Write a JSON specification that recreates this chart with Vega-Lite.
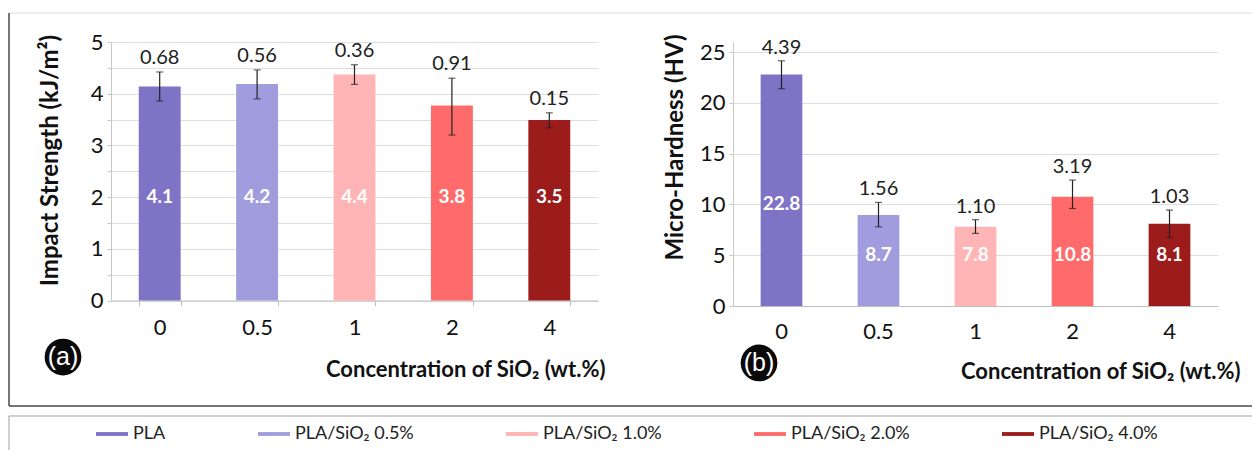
{
  "$schema": "https://vega.github.io/schema/vega-lite/v6.json",
  "width": 1243,
  "height": 437,
  "autosize": {"type": "none"},
  "padding": {"left": 9, "top": 13, "right": 0, "bottom": 0},
  "background": "white",
  "config": {
    "view": {"stroke": null},
    "font": "Lato",
    "axis": {
      "labelFont": "Lato",
      "titleFont": "Lato",
      "labelColor": "#111111",
      "titleColor": "#111111",
      "domainColor": "#c8c8c8",
      "tickColor": "#c8c8c8",
      "gridColor": "#dedede",
      "labelFontSize": 22
    }
  },
  "datasets": {
    "impact": [
      {"conc": "0", "series": "PLA", "value": 4.14, "lo": 3.86, "hi": 4.42, "sd": "0.68", "label": "4.1"},
      {"conc": "0.5", "series": "PLA/SiO₂ 0.5%", "value": 4.19, "lo": 3.9, "hi": 4.46, "sd": "0.56", "label": "4.2"},
      {"conc": "1", "series": "PLA/SiO₂ 1.0%", "value": 4.37, "lo": 4.18, "hi": 4.56, "sd": "0.36", "label": "4.4"},
      {"conc": "2", "series": "PLA/SiO₂ 2.0%", "value": 3.77, "lo": 3.2, "hi": 4.3, "sd": "0.91", "label": "3.8"},
      {"conc": "4", "series": "PLA/SiO₂ 4.0%", "value": 3.49, "lo": 3.34, "hi": 3.63, "sd": "0.15", "label": "3.5"}
    ],
    "hardness": [
      {"conc": "0", "series": "PLA", "value": 22.8, "lo": 21.4, "hi": 24.15, "sd": "4.39", "label": "22.8"},
      {"conc": "0.5", "series": "PLA/SiO₂ 0.5%", "value": 8.96, "lo": 7.8, "hi": 10.2, "sd": "1.56", "label": "8.7"},
      {"conc": "1", "series": "PLA/SiO₂ 1.0%", "value": 7.8, "lo": 7.15, "hi": 8.5, "sd": "1.10", "label": "7.8"},
      {"conc": "2", "series": "PLA/SiO₂ 2.0%", "value": 10.75, "lo": 9.6, "hi": 12.4, "sd": "3.19", "label": "10.8"},
      {"conc": "4", "series": "PLA/SiO₂ 4.0%", "value": 8.1, "lo": 6.75, "hi": 9.45, "sd": "1.03", "label": "8.1"}
    ]
  },
  "resolve": {
    "scale": {"x": "independent", "y": "independent"},
    "axis": {"x": "independent", "y": "independent"}
  },
  "layer": [
    {
      "data": {"name": "impact"},
      "encoding": {
        "x": {
          "field": "conc", "type": "nominal", "sort": null,
          "scale": {"range": [102, 589], "paddingInner": 0.57, "paddingOuter": 0.285},
          "axis": {"orient": "bottom", "offset": -149.5, "title": "Concentration of SiO₂ (wt.%)", "labelAngle": 0, "tickBand": "extent", "tickSize": 5, "labelPadding": 12, "titleFontSize": 22, "titleFontWeight": "bold", "titleAnchor": "end", "titleAlign": "right", "titleX": 596, "titlePadding": 21, "domainColor": "#bdbdbd", "tickColor": "#bdbdbd"}
        }
      },
      "layer": [
        {
          "mark": {"type": "bar"},
          "encoding": {
            "y": {"field": "value", "type": "quantitative", "scale": {"domain": [0, 5], "range": [287.5, 29]},
              "axis": {"orient": "left", "offset": -102, "title": "Impact Strength (kJ/m²)", "values": [0, 0.5, 1, 1.5, 2, 2.5, 3, 3.5, 4, 4.5, 5], "labelExpr": "datum.value % 1 === 0 ? format(datum.value, 'd') : ''", "grid": true, "tickSize": 4, "labelPadding": 4, "titleFontSize": 24, "titleFontWeight": "bold", "titlePadding": 28, "titleY": 147}},
            "color": {"field": "series", "type": "nominal",
              "scale": {"domain": ["PLA", "PLA/SiO₂ 0.5%", "PLA/SiO₂ 1.0%", "PLA/SiO₂ 2.0%", "PLA/SiO₂ 4.0%"], "range": ["#7f73c6", "#a19cdd", "#ffb4b5", "#ff6b6b", "#9c1b1b"]},
              "legend": {"orient": "none", "legendX": 87, "legendY": 405, "direction": "horizontal", "title": null, "symbolType": "M-1,-0.12H1V0.12H-1Z", "symbolSize": 1024, "symbolStrokeWidth": 0, "labelFont": "Lato", "labelFontSize": 18, "labelColor": "#222", "labelOffset": 5, "columnPadding": 92, "labelLimit": 300, "padding": 0}}
          }
        },
        {
          "mark": {"type": "rule", "color": "#222", "strokeWidth": 1.2},
          "encoding": {"y": {"field": "lo", "type": "quantitative"}, "y2": {"field": "hi"}}
        },
        {
          "mark": {"type": "tick", "color": "#222", "thickness": 1.2, "size": 7},
          "encoding": {"y": {"field": "lo", "type": "quantitative"}}
        },
        {
          "mark": {"type": "tick", "color": "#222", "thickness": 1.2, "size": 7},
          "encoding": {"y": {"field": "hi", "type": "quantitative"}}
        },
        {
          "mark": {"type": "text", "baseline": "alphabetic", "dy": -8, "fontSize": 20, "color": "#222"},
          "encoding": {"y": {"field": "hi", "type": "quantitative"}, "text": {"field": "sd"}}
        },
        {
          "mark": {"type": "text", "baseline": "middle", "fontSize": 19, "fontWeight": "bold", "color": "white"},
          "encoding": {"y": {"datum": 2, "type": "quantitative"}, "text": {"field": "label"}}
        }
      ]
    },
    {
      "data": {"name": "hardness"},
      "encoding": {
        "x": {
          "field": "conc", "type": "nominal", "sort": null,
          "scale": {"range": [724, 1209], "paddingInner": 0.57, "paddingOuter": 0.285},
          "axis": {"orient": "bottom", "offset": -144, "title": "Concentration of SiO₂ (wt.%)", "labelAngle": 0, "ticks": false, "tickSize": 0, "labelPadding": 15, "titleFontSize": 22, "titleFontWeight": "bold", "titleAnchor": "end", "titleAlign": "right", "titleX": 1231, "titlePadding": 19, "domainColor": "#bdbdbd"}
        }
      },
      "layer": [
        {
          "mark": {"type": "bar"},
          "encoding": {
            "y": {"field": "value", "type": "quantitative", "scale": {"domain": [0, 25], "range": [293, 29]},
              "axis": {"orient": "left", "offset": -724, "title": "Micro-Hardness (HV)", "values": [0, 5, 10, 15, 20, 25], "grid": true, "tickSize": 4, "labelPadding": 4, "titleFontSize": 24, "titleFontWeight": "bold", "titlePadding": 12, "titleY": 134}},
            "color": {"field": "series", "type": "nominal",
              "scale": {"domain": ["PLA", "PLA/SiO₂ 0.5%", "PLA/SiO₂ 1.0%", "PLA/SiO₂ 2.0%", "PLA/SiO₂ 4.0%"], "range": ["#7f73c6", "#a19cdd", "#ffb4b5", "#ff6b6b", "#9c1b1b"]},
              "legend": {"orient": "none", "legendX": 87, "legendY": 405, "direction": "horizontal", "title": null, "symbolType": "M-1,-0.12H1V0.12H-1Z", "symbolSize": 1024, "symbolStrokeWidth": 0, "labelFont": "Lato", "labelFontSize": 18, "labelColor": "#222", "labelOffset": 5, "columnPadding": 92, "labelLimit": 300, "padding": 0}}
          }
        },
        {
          "mark": {"type": "rule", "color": "#222", "strokeWidth": 1.2},
          "encoding": {"y": {"field": "lo", "type": "quantitative"}, "y2": {"field": "hi"}}
        },
        {
          "mark": {"type": "tick", "color": "#222", "thickness": 1.2, "size": 7},
          "encoding": {"y": {"field": "lo", "type": "quantitative"}}
        },
        {
          "mark": {"type": "tick", "color": "#222", "thickness": 1.2, "size": 7},
          "encoding": {"y": {"field": "hi", "type": "quantitative"}}
        },
        {
          "mark": {"type": "text", "baseline": "alphabetic", "dy": -7, "fontSize": 20, "color": "#222"},
          "encoding": {"y": {"field": "hi", "type": "quantitative"}, "text": {"field": "sd"}}
        },
        {
          "transform": [{"filter": "datum.conc === '0'"}],
          "mark": {"type": "text", "baseline": "middle", "fontSize": 19, "fontWeight": "bold", "color": "white"},
          "encoding": {"y": {"datum": 10, "type": "quantitative"}, "text": {"field": "label"}}
        },
        {
          "transform": [{"filter": "datum.conc !== '0'"}],
          "mark": {"type": "text", "baseline": "middle", "fontSize": 19, "fontWeight": "bold", "color": "white"},
          "encoding": {"y": {"datum": 5, "type": "quantitative"}, "text": {"field": "label"}}
        }
      ]
    },
    {
      "data": {"values": [{}]},
      "layer": [
        {
          "mark": {"type": "rule", "color": "#dcdcdc", "strokeWidth": 1},
          "encoding": {"y": {"datum": 1, "type": "quantitative", "scale": {"domain": [0, 1]}, "axis": null}}
        },
        {
          "mark": {"type": "rule", "color": "#4a4a4a", "strokeWidth": 1.5},
          "encoding": {"y": {"datum": 0.10069, "type": "quantitative", "scale": {"domain": [0, 1]}, "axis": null}}
        },
        {
          "mark": {"type": "rule", "color": "#a0a0a0", "strokeWidth": 1},
          "encoding": {"y": {"datum": 0.0778, "type": "quantitative", "scale": {"domain": [0, 1]}, "axis": null}}
        },
        {
          "mark": {"type": "rule", "color": "#4a4a4a", "strokeWidth": 1.5},
          "encoding": {
            "x": {"datum": 0, "type": "quantitative", "scale": {"domain": [0, 1]}, "axis": null},
            "y": {"datum": 1, "type": "quantitative", "scale": {"domain": [0, 1]}, "axis": null},
            "y2": {"datum": 0.10069}
          }
        },
        {
          "mark": {"type": "rule", "color": "#a0a0a0", "strokeWidth": 1},
          "encoding": {
            "x": {"datum": 0, "type": "quantitative", "scale": {"domain": [0, 1]}, "axis": null},
            "y": {"datum": 0.0778, "type": "quantitative", "scale": {"domain": [0, 1]}, "axis": null},
            "y2": {"datum": 0}
          }
        },
        {
          "mark": {"type": "point", "shape": "circle", "filled": true, "color": "#0a0a0a", "opacity": 1, "size": 1350},
          "encoding": {
            "x": {"datum": 0.04344, "type": "quantitative", "scale": {"domain": [0, 1]}, "axis": null},
            "y": {"datum": 0.2128, "type": "quantitative", "scale": {"domain": [0, 1]}, "axis": null}
          }
        },
        {
          "mark": {"type": "text", "text": "(a)", "color": "white", "font": "Liberation Sans", "fontSize": 25, "baseline": "middle"},
          "encoding": {
            "x": {"datum": 0.04344, "type": "quantitative", "scale": {"domain": [0, 1]}, "axis": null},
            "y": {"datum": 0.2128, "type": "quantitative", "scale": {"domain": [0, 1]}, "axis": null}
          }
        },
        {
          "mark": {"type": "point", "shape": "circle", "filled": true, "color": "#0a0a0a", "opacity": 1, "size": 1350},
          "encoding": {
            "x": {"datum": 0.6034, "type": "quantitative", "scale": {"domain": [0, 1]}, "axis": null},
            "y": {"datum": 0.1991, "type": "quantitative", "scale": {"domain": [0, 1]}, "axis": null}
          }
        },
        {
          "mark": {"type": "text", "text": "(b)", "color": "white", "font": "Liberation Sans", "fontSize": 25, "baseline": "middle"},
          "encoding": {
            "x": {"datum": 0.6034, "type": "quantitative", "scale": {"domain": [0, 1]}, "axis": null},
            "y": {"datum": 0.1991, "type": "quantitative", "scale": {"domain": [0, 1]}, "axis": null}
          }
        }
      ]
    }
  ]
}
